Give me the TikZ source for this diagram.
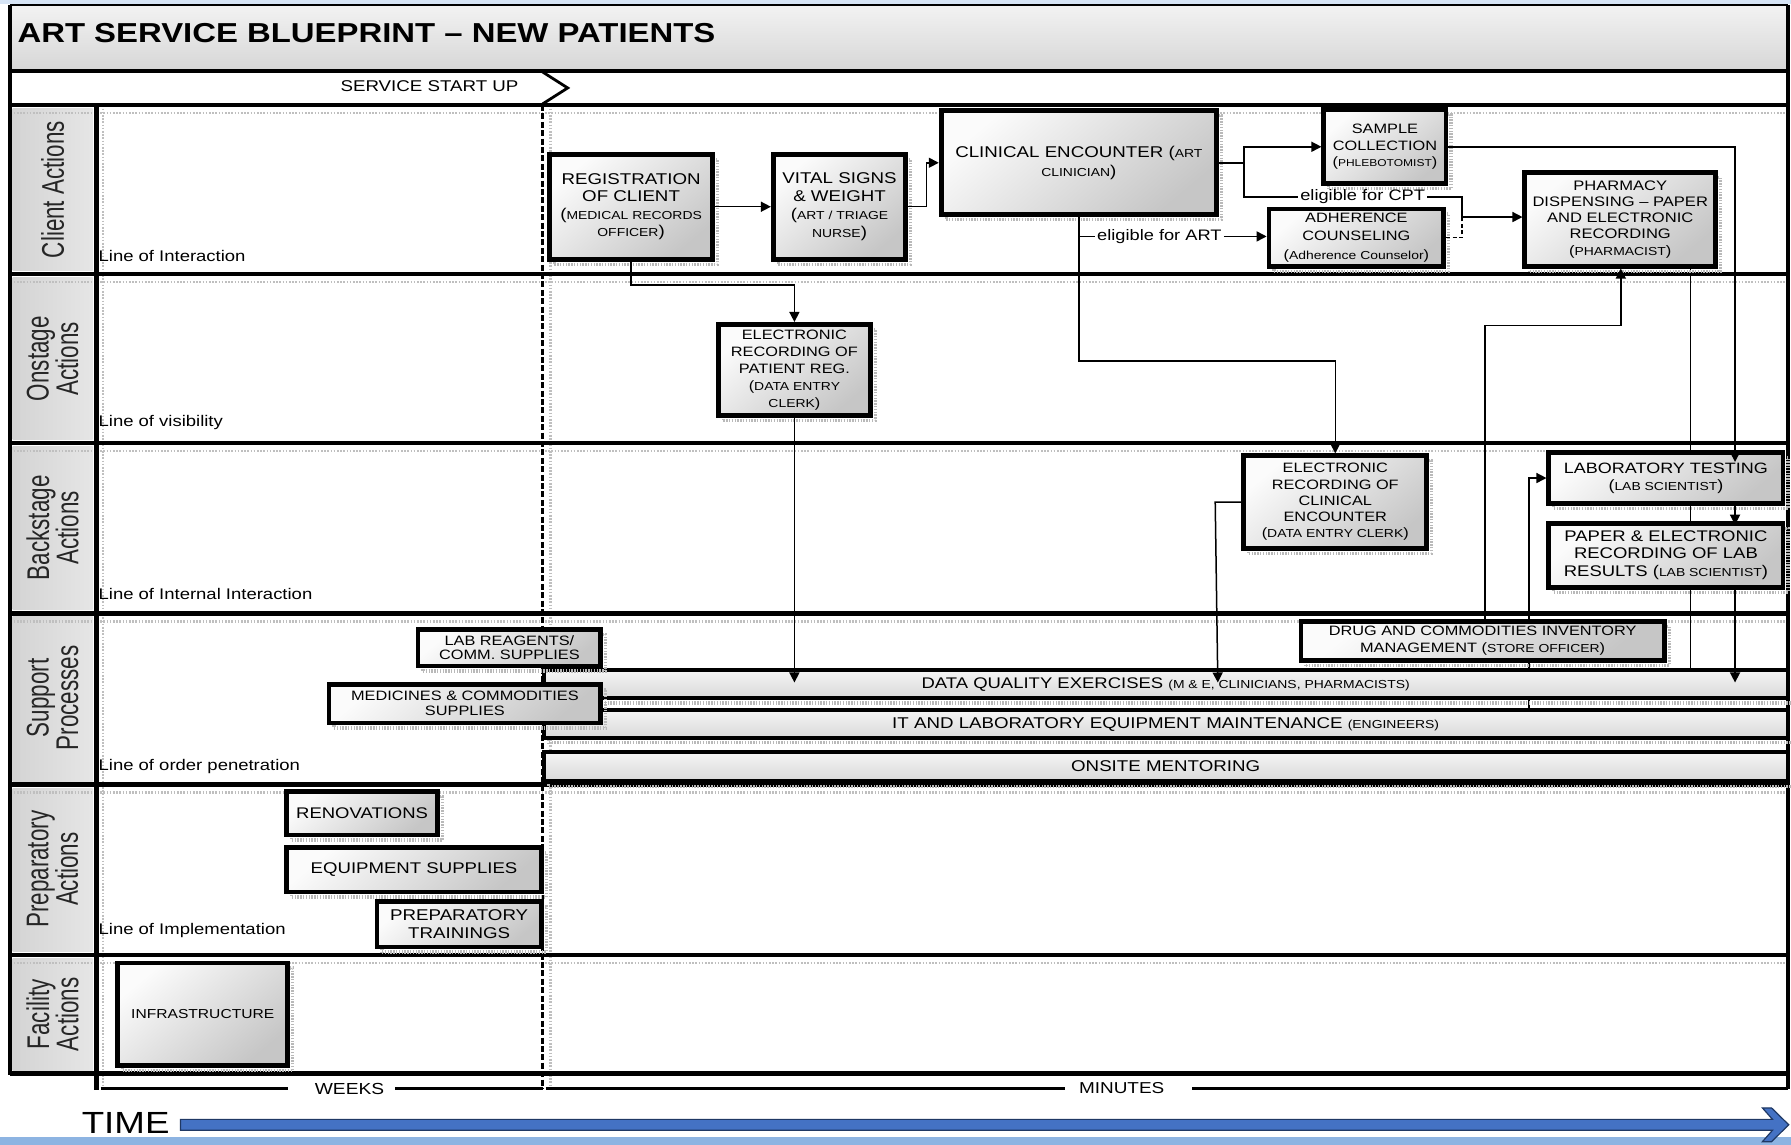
\documentclass[tikz,border=0pt]{standalone}
\usepackage{fontspec}
\setmainfont{Liberation Sans}[FakeStretch=1.2]
\newfontfamily\lanefont{Liberation Sans}
\usetikzlibrary{arrows.meta,shadows,backgrounds}
\definecolor{timeblue}{RGB}{68,114,196}
\definecolor{timedark}{RGB}{31,56,100}
\definecolor{stripblue}{RGB}{141,180,226}
\definecolor{topblue}{RGB}{214,228,245}
\newcommand\fz[2]{\fontsize{#1}{#2}\selectfont}
\newcommand\rolet[1]{{\fontsize{5.8}{7}\selectfont #1}}
\begin{document}
\begin{tikzpicture}[x=0.57111pt,y=-0.57111pt,
  lane/.style={line width=2.3pt},
  shadowline/.style={draw=gray!50, line width=1.3pt, dash pattern=on 0.8pt off 0.8pt},
  box/.style={draw=black, line width=2.4pt, inner sep=0pt, align=center, text=black,
    top color=gray!3, bottom color=gray!45, shading angle=40,
    general shadow={shadow xshift=2.5pt, shadow yshift=-2.5pt, draw=gray!55, line width=1.6pt, dash pattern=on 0.7pt off 0.7pt}},
  bar/.style={box, line width=2pt, top color=gray!8, bottom color=gray!30},
  span/.style args={#1/#2/#3/#4}{minimum width={(#3-#1)*0.57111pt}, minimum height={(#4-#2)*0.57111pt}, at={({(#1+#3)/2},{(#2+#4)/2})}},
  conn/.style={line width=0.75pt},
  arr/.style={conn, -{Triangle[length=5pt,width=5pt]}},
  lbl/.style={inner sep=1pt, font=\fz{7.6}{9}},
  linelbl/.style={anchor=west, inner sep=0pt, font=\fz{7.7}{9}},
  lanelab/.style={font=\lanefont\fz{11.2}{10.5}, align=center, text=black!85, inner sep=0pt, xscale=1.4, rotate=90}
]
\useasboundingbox (0,0) rectangle (1568,1002);
% strips
\fill[topblue] (0,0) rectangle (1568,3.5);
\fill[stripblue] (0,995.5) rectangle (1568,1002);
% header
\shade[top color=gray!10, bottom color=gray!32] (9,4.5) rectangle (1565.5,62);
\draw[line width=0.7pt] (9,4.5) -- (1565.5,4.5);
% lane label boxes
\foreach \a/\b in {95/237,243/385,391/534,540/684,690/833,839/937}
  \shade[left color=gray!34, right color=gray!20] (11,\a) rectangle (81,\b);
% shadow lines
\foreach \y in {99,247,395,544,694,843}
  \draw[shadowline] (12,\y) -- (1563,\y);
\draw[shadowline] (90,95) -- (90,952);
\draw[shadowline] (482,95) -- (482,952);
% lane lines and frame
\foreach \y in {62,92,240,388,537,687,836,940}
  \draw[lane] (9,\y) -- (1565.5,\y);
\draw[line width=2pt] (9,4) -- (9,941);
\draw[line width=2pt] (1565.5,4) -- (1565.5,953.5);
\draw[line width=2.8pt] (84.5,92) -- (84.5,954);
% service start up
\node[font=\fz{7.8}{9}, inner sep=0pt] (ssu) at (376,75) {SERVICE START UP};
\draw[line width=1.4pt] (475,63) -- (497,77) -- (475,91);
\draw[line width=1.7pt, dash pattern=on 3pt off 1.2pt] (475,92) -- (475,953);
% weeks / minutes
\draw[line width=1.2pt] (88,953) -- (252,953) (346,953) -- (475,953) (478,953) -- (932,953) (1044,953) -- (1565.5,953);
\node[font=\fz{8}{9}, inner sep=0pt] (weeks) at (306,953) {WEEKS};
\node[font=\fz{7.9}{9}, inner sep=0pt] (minutes) at (982,953) {MINUTES};
% title
\node[anchor=west, inner sep=0pt, font=\bfseries\fz{13.7}{16}] (title) at (15,29) {ART SERVICE BLUEPRINT – NEW PATIENTS};
% bars
\node[bar, span=476/587/1565/611, font=\fz{7.7}{9}] (dq) {DATA QUALITY EXERCISES \rolet{(M \& E, CLINICIANS, PHARMACISTS)}};
\node[bar, span=476/622/1565/646, font=\fz{7.8}{9}] (it) {IT AND LABORATORY EQUIPMENT MAINTENANCE \rolet{(ENGINEERS)}};
\node[bar, span=476/658/1565/684, font=\fz{7.8}{9}] (om) {ONSITE MENTORING};
% boxes
\node[box, span=481/135/624/227, font=\fz{7.8}{8.6}] (reg) {REGISTRATION\\OF CLIENT\\(\rolet{MEDICAL RECORDS}\\\rolet{OFFICER})};
\node[box, span=677/135/793/227, font=\fz{7.8}{9.1}] (vital) {VITAL SIGNS\\\& WEIGHT\\(\rolet{ART / TRIAGE}\\\rolet{NURSE})};
\node[box, span=824/97/1065/188, font=\fz{7.8}{9.7}] (clin) {CLINICAL ENCOUNTER (\rolet{ART}\\\rolet{CLINICIAN})};
\node[box, span=1159/96/1266/161, font=\fz{6.8}{8.3}] (sample) {SAMPLE\\COLLECTION\\({\fz{5}{6}PHLEBOTOMIST})};
\node[box, span=1111/183/1264/233, font=\fz{6.8}{9.1}] (adh) {ADHERENCE\\COUNSELING\\(\rolet{Adherence Counselor})};
\node[box, span=1335/151/1502/233, font=\fz{6.9}{8.1}] (pharm) {PHARMACY\\DISPENSING – PAPER\\AND ELECTRONIC\\RECORDING\\(\rolet{PHARMACIST})};
\node[box, span=629/284/762/364, font=\fz{6.8}{8.6}] (erpr) {ELECTRONIC\\RECORDING OF\\PATIENT REG.\\(\rolet{DATA ENTRY}\\\rolet{CLERK})};
\node[box, span=1089/399/1249/480, font=\fz{6.8}{8.1}] (erce) {ELECTRONIC\\RECORDING OF\\CLINICAL\\ENCOUNTER\\(\rolet{DATA ENTRY CLERK})};
\node[box, span=1356/396/1561/441, font=\fz{7.5}{8.6}] (lab) {LABORATORY TESTING\\(\rolet{LAB SCIENTIST})};
\node[box, span=1356/458/1561/514, font=\fz{7.7}{8.9}] (paper) {PAPER \& ELECTRONIC\\RECORDING OF LAB\\RESULTS (\rolet{LAB SCIENTIST})};
\node[box, span=1139/544/1457/578, font=\fz{6.8}{8.6}] (drug) {DRUG AND COMMODITIES INVENTORY\\MANAGEMENT (\rolet{STORE OFFICER})};
\node[box, span=366/551/526/583, font=\fz{6.8}{7.4}] (reag) {LAB REAGENTS/\\COMM. SUPPLIES};
\node[box, span=288/599/526/633, font=\fz{6.8}{7.4}] (med) {MEDICINES \& COMMODITIES\\SUPPLIES};
\node[box, span=251/693/383/731, font=\fz{7.7}{9}] (reno) {RENOVATIONS};
\node[box, span=251/742/474/781, font=\fz{7.75}{9}] (equip) {EQUIPMENT SUPPLIES};
\node[box, span=330/789/474/829, font=\fz{7.8}{9.1}] (prep) {PREPARATORY\\TRAININGS};
\node[box, span=103/843/252/933, font=\fz{6.5}{8}] (infra) {INFRASTRUCTURE};
% connectors
\coordinate (j1) at (1089,142.5);
\coordinate (j2) at (1280,190);
\coordinate (j3) at (944.5,207);
\node[lbl] (cpt) at (1193,172.5) {eligible for CPT};
\node[lbl] (art) at (1015,207) {eligible for ART};
\draw[arr] (reg.east) -- (vital.west);
\draw[arr] (vital.east) -- ++(16,0) |- (clin.west);
\draw[conn] (clin.east) -- (j1);
\draw[arr] (j1) |- (sample.west);
\draw[conn] (j1) |- (cpt.west);
\draw[conn] (cpt.east) -| (j2);
\draw[arr] (j2) -- (pharm.west |- j2);
\draw[conn, dash pattern=on 2pt off 1.2pt] (adh.east) -| (j2);
\draw[conn] (j3) -- (art.west);
\draw[arr] (art.east) -- (adh.west |- art.east);
\draw[arr] (clin.south) -- ++(0,126) -| (erce.north);
\draw[arr] (reg.south) -- ++(0,20.5) -| (erpr.north);
\draw[arr, shorten >=-7pt] (erpr.south) -- (erpr.south |- dq.north);
\draw[arr, shorten >=-7pt] (erce.west) -- ++(-23,0) -- (1066,0 |- dq.north);
\draw[arr, shorten >=-6pt] (sample.east) -| (lab.north -| 1519,0);
\draw[arr, shorten >=-2pt] (lab.south -| 1519,0) -- (paper.north -| 1519,0);
\draw[arr, shorten >=-7pt] (paper.south -| 1519,0) -- (dq.north -| 1519,0);
\draw[arr] (drug.north -| 1300,0) |- (1419,285) -- (pharm.south -| 1419,0);
\begin{scope}[on background layer]
\draw[conn] (pharm.south -| 1480,0) -- (dq.north -| 1480,0);
\draw[arr] (it.north -| 1338.5,0) |- (lab.west);
\end{scope}
% lane labels
\node[lanelab] (ln1) at (46,166) {Client Actions};
\node[lanelab] (ln2) at (46,314) {Onstage\\Actions};
\node[lanelab] (ln3) at (46,462) {Backstage\\Actions};
\node[lanelab] (ln4) at (46,611) {Support\\Processes};
\node[lanelab] (ln5) at (46,761) {Preparatory\\Actions};
\node[lanelab] (ln6) at (46,888) {Facility\\Actions};
% line labels
\node[linelbl] (l1) at (86,224) {Line of Interaction};
\node[linelbl] (l2) at (86,370) {Line of visibility};
\node[linelbl] (l3) at (86,520) {Line of Internal Interaction};
\node[linelbl] (l4) at (86,671) {Line of order penetration};
\node[linelbl] (l5) at (86,815) {Line of Implementation};
% time arrow
\node[font=\fz{15.3}{18}, inner sep=0pt] (time) at (110,983) {TIME};
\filldraw[fill=timeblue, draw=timedark, line width=0.6pt]
  (158,980) -- (1551.8,980) -- (1543,970) -- (1551,970) -- (1566,984.7) -- (1551,999.5) -- (1543,999.5) -- (1551.8,989.5) -- (158,989.5) -- cycle;
\end{tikzpicture}
\end{document}
